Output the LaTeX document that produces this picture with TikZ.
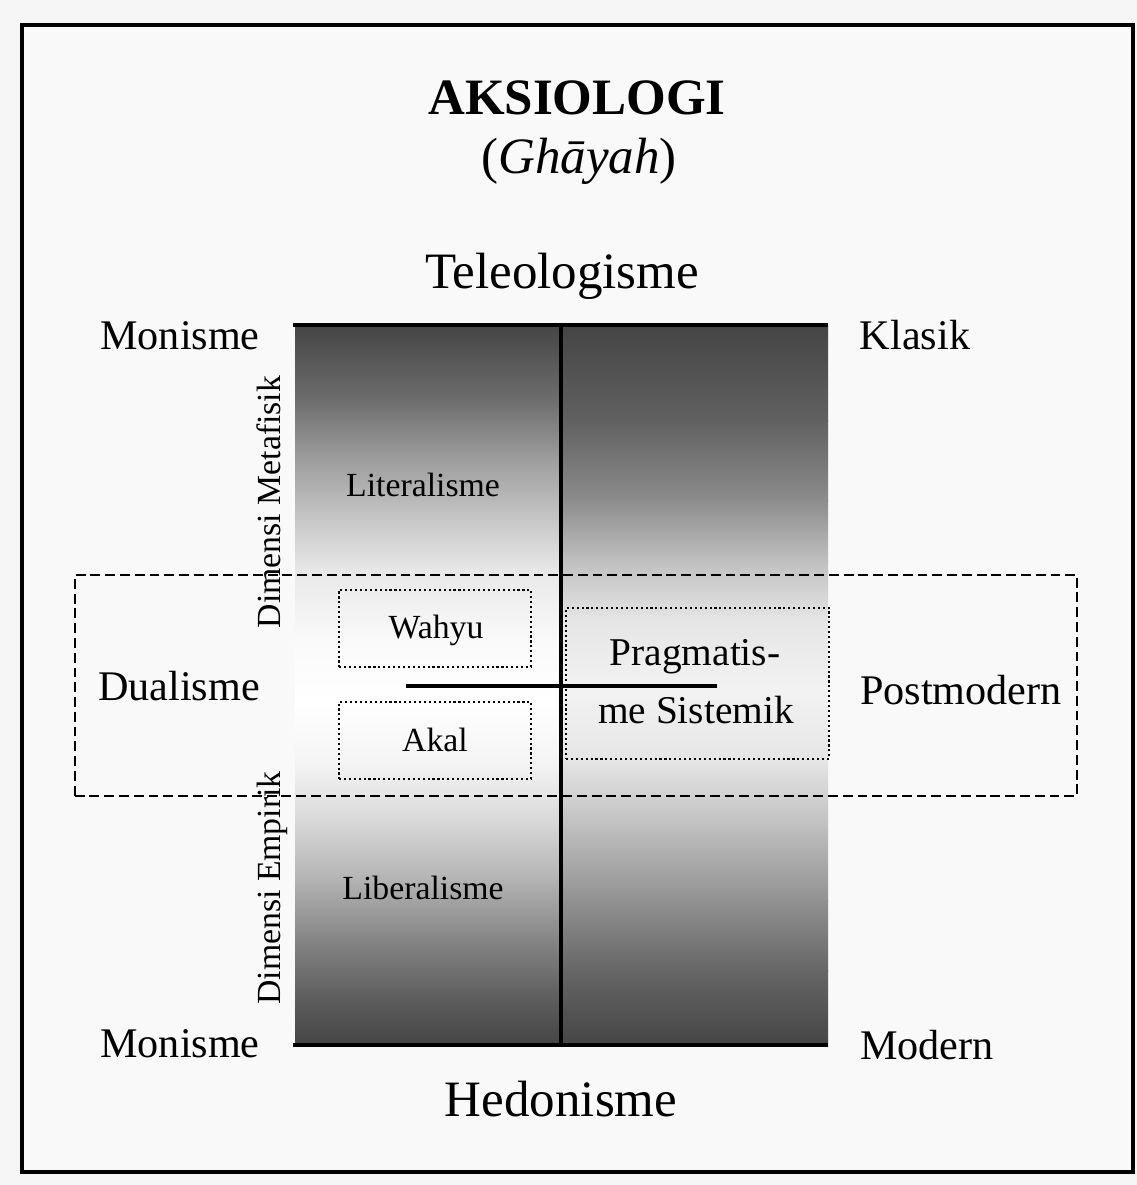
\documentclass[tikz,border=0pt]{standalone}
\usepackage{fontspec}
\setmainfont{Liberation Serif}
\definecolor{bgout}{HTML}{F6F6F6}
\definecolor{bgin}{HTML}{F9F9F9}
\begin{document}
\begin{tikzpicture}[x=0.01cm,y=-0.01cm,
  lbl/.style={font=\fontsize{12}{14}\selectfont, inner sep=0pt},
  big/.style={font=\fontsize{14.5}{17}\selectfont, inner sep=0pt},
  small/.style={font=\fontsize{9.6}{11}\selectfont, inner sep=0pt},
  mid/.style={font=\fontsize{11.2}{13}\selectfont, inner sep=0pt},
  dotbox/.style={draw, line width=0.6pt, dash pattern=on 0.6pt off 0.8pt, inner sep=0pt},
  dashbox/.style={draw, line width=0.55pt, dash pattern=on 2.8pt off 1.4pt, inner sep=0pt},
  axisline/.style={line width=0.9pt},
  edgeline/.style={line width=1.2pt}]
\useasboundingbox (0,0) rectangle (1137,1185);
\fill[bgout] (0,0) rectangle (1137,1185);
\draw[line width=1.2pt, fill=bgin] (22,25) rectangle (1133,1172);

% gradient, left half
\foreach \ya/\ca/\yb/\cb in {325/73/400/57, 400/57/460/38, 460/38/520/22, 520/22/570/9,
   570/9/640/2, 640/2/700/0, 700/0/760/4, 760/4/820/15, 820/15/880/30, 880/30/940/48,
   940/48/1000/64, 1000/64/1045/73}
  \shade[top color=black!\ca, bottom color=black!\cb] (295,\ya) rectangle (561.5,\yb+1);
% gradient, right half
\foreach \ya/\ca/\yb/\cb in {325/73/420/62, 420/62/500/45, 500/45/560/25, 560/25/620/10,
   620/10/690/5, 690/5/760/10, 760/10/830/26, 830/26/900/43, 900/43/970/60, 970/60/1045/73}
  \shade[top color=black!\ca, bottom color=black!\cb] (561,\ya) rectangle (828,\yb+1);

% frame lines of the central panel
\coordinate (tl) at (293,325);
\coordinate (tr) at (828,325);
\coordinate (bl) at (293,1045);
\coordinate (br) at (828,1045);
\coordinate (vt) at (561,325);
\coordinate (vb) at (561,1045);
\coordinate (hl) at (406,686);
\coordinate (hr) at (717,686);
\draw[edgeline] (tl) -- (tr);
\draw[edgeline] (bl) -- (br);
\draw[axisline] (vt) -- (vb);
\draw[axisline] (hl) -- (hr);

% dashed band and dotted boxes
\node[dashbox, minimum width=10.02cm, minimum height=2.21cm] (band) at (576,685.5) {};
\node[dotbox, minimum width=1.92cm, minimum height=0.77cm] (wbox) at (435,628.5) {};
\node[dotbox, minimum width=1.92cm, minimum height=0.77cm] (abox) at (435,740.5) {};
\node[dotbox, minimum width=2.63cm, minimum height=1.51cm] (pbox) at (697.5,683.5) {};

% titles
\node[big, anchor=base, font=\fontsize{14.5}{17}\selectfont\bfseries] (title) at (577,115) {AKSIOLOGI};
\node[big, anchor=base] (sub) at (579,173) {(\textit{Ghāyah})};
\node[big, anchor=base] (tele) at (562,288) {Teleologisme};
\node[big, anchor=base] (hedo) at (561,1116) {Hedonisme};

% side labels
\node[lbl, anchor=base] (mon1) at (180,349) {Monisme};
\node[lbl, anchor=base] (klas) at (915,349) {Klasik};
\node[lbl, anchor=base] (dual) at (179,700) {Dualisme};
\node[lbl, anchor=base] (post) at (961,704) {Postmodern};
\node[lbl, anchor=base] (mon2) at (180,1057) {Monisme};
\node[lbl, anchor=base] (modr) at (927,1059) {Modern};

% inner labels
\node[small, anchor=base] (lit) at (423,496) {Literalisme};
\node[small, anchor=base] (lib) at (423,899) {Liberalisme};
\node[small, anchor=base] (wah) at (436,638) {Wahyu};
\node[small, anchor=base] (aka) at (435,751) {Akal};
\node[mid, anchor=base] (prag1) at (695,665) {Pragmatis-};
\node[mid, anchor=base] (prag2) at (696,723) {me Sistemik};

% rotated dimension labels
\node[small, anchor=base, rotate=90] (dmeta) at (280,502) {Dimensi Metafisik};
\node[small, anchor=base, rotate=90] (demp) at (280,888) {Dimensi Empirik};
\end{tikzpicture}
\end{document}
